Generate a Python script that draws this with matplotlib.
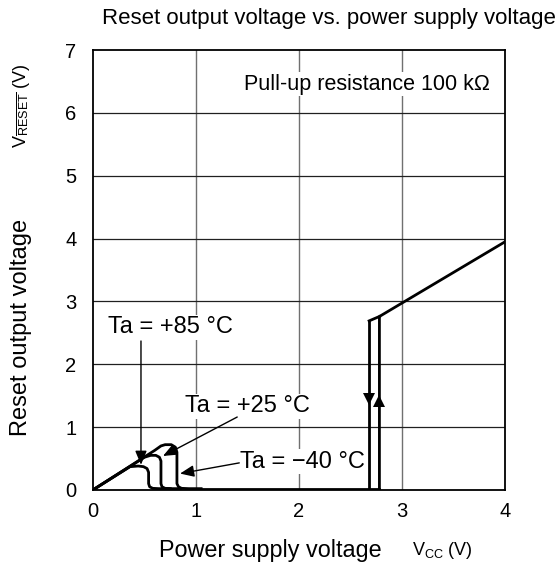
import numpy as np
import matplotlib
matplotlib.use("Agg")
import matplotlib.pyplot as plt

plt.rcParams["font.family"] = ["Liberation Sans", "DejaVu Sans"]
plt.rcParams["mathtext.fontset"] = "custom"
plt.rcParams["mathtext.rm"] = "Liberation Sans"
plt.rcParams["mathtext.it"] = "Liberation Sans"

# low-voltage region, one curve per temperature
ta85_vcc = [0.0, 0.36, 0.44, 0.49, 0.525, 0.54, 0.54, 0.55, 0.58, 0.64, 0.75]
ta85_v = [0.0, 0.37, 0.38, 0.37, 0.34, 0.28, 0.10, 0.05, 0.025, 0.02, 0.02]

ta25_vcc = [0.0, 0.50, 0.56, 0.61, 0.645, 0.66, 0.66, 0.67, 0.70, 0.76, 0.85]
ta25_v = [0.0, 0.52, 0.55, 0.55, 0.52, 0.46, 0.10, 0.05, 0.025, 0.02, 0.02]

ta40_vcc = [0.0, 0.60, 0.66, 0.70, 0.76, 0.80, 0.815, 0.815, 0.83, 0.86, 0.93, 1.05]
ta40_v = [0.0, 0.63, 0.70, 0.72, 0.72, 0.68, 0.60, 0.10, 0.05, 0.025, 0.02, 0.02]

# detection / release region
low_vcc = [0.9, 2.78]
low_v = [0.02, 0.02]
rise_vcc = [2.78, 2.78, 4.0]
rise_v = [0.02, 2.76, 3.95]
fall_vcc = [2.68, 2.68]
fall_v = [2.69, 0.02]
link_vcc = [2.68, 2.78]
link_v = [2.69, 2.76]

fall_mark = (2.68, 1.44)
rise_mark = (2.78, 1.42)

x_ticks = [0, 1, 2, 3, 4]
y_ticks = [0, 1, 2, 3, 4, 5, 6, 7]

fig = plt.figure(figsize=(5.6, 5.69), dpi=100)
ax = fig.add_axes([0.166, 0.139, 0.736, 0.773])

for x in x_ticks[1:-1]:
    ax.axvline(x, color="#707070", lw=1.0, zorder=0)
for y in y_ticks[1:-1]:
    ax.axhline(y, color="#202020", lw=0.9, zorder=0)

lw = 2.0
ax.plot(ta85_vcc, ta85_v, color="black", lw=lw, solid_joinstyle="round")
ax.plot(ta25_vcc, ta25_v, color="black", lw=lw, solid_joinstyle="round")
ax.plot(ta40_vcc, ta40_v, color="black", lw=lw, solid_joinstyle="round")
ax.plot(low_vcc, low_v, color="black", lw=lw)
ax.plot(rise_vcc, rise_v, color="black", lw=lw)
ax.plot(fall_vcc, fall_v, color="black", lw=lw)
ax.plot(link_vcc, link_v, color="black", lw=lw)

ax.plot(*fall_mark, marker="v", color="black", ms=8, mew=0)
ax.plot(*rise_mark, marker="^", color="black", ms=8, mew=0)

box = dict(facecolor="white", edgecolor="none", pad=1.0)
arrow = dict(arrowstyle="-|>,head_length=0.6,head_width=0.25", color="black",
             lw=1.0, mutation_scale=14, shrinkA=0, shrinkB=0)

ax.text(0.15, 2.59, "Ta = +85 °C", fontsize=17, va="center", ha="left", bbox=box)
ax.annotate("", xy=(0.466, 0.40), xytext=(0.466, 2.37), arrowprops=arrow)

ax.text(0.89, 1.33, "Ta = +25 °C", fontsize=17, va="center", ha="left", bbox=box)
ax.annotate("", xy=(0.68, 0.54), xytext=(1.40, 1.16), arrowprops=arrow)

ax.text(1.43, 0.45, "Ta = \u221240 °C", fontsize=17, va="center", ha="left", bbox=box)
ax.annotate("", xy=(0.845, 0.26), xytext=(1.42, 0.43), arrowprops=arrow)

ax.text(3.85, 6.46, "Pull-up resistance 100 k\u03a9", fontsize=15.5, va="center",
        ha="right", bbox=box)

ax.set_xlim(0, 4)
ax.set_ylim(0, 7)
ax.set_xticks(x_ticks)
ax.set_yticks(y_ticks)
ax.tick_params(length=0, labelsize=14.5)
ax.tick_params(axis="x", pad=9)
ax.tick_params(axis="y", pad=12)
for s in ax.spines.values():
    s.set_linewidth(1.3)

fig.text(0.587, 0.968, "Reset output voltage vs. power supply voltage",
         fontsize=16, ha="center", va="center")
fig.text(0.482, 0.032, "Power supply voltage", fontsize=16.8, ha="center", va="center")
fig.text(0.79, 0.032, r"V$_{\rm CC}$ (V)", fontsize=13, ha="center", va="center")
fig.text(0.038, 0.425, "Reset output voltage", fontsize=17, rotation=90,
         ha="center", va="center")
fig.text(0.038, 0.815, r"V$_{\overline{\rm RESET}}$ (V)", fontsize=13, rotation=90,
         ha="center", va="center")

fig.savefig("out.png", dpi=100)
